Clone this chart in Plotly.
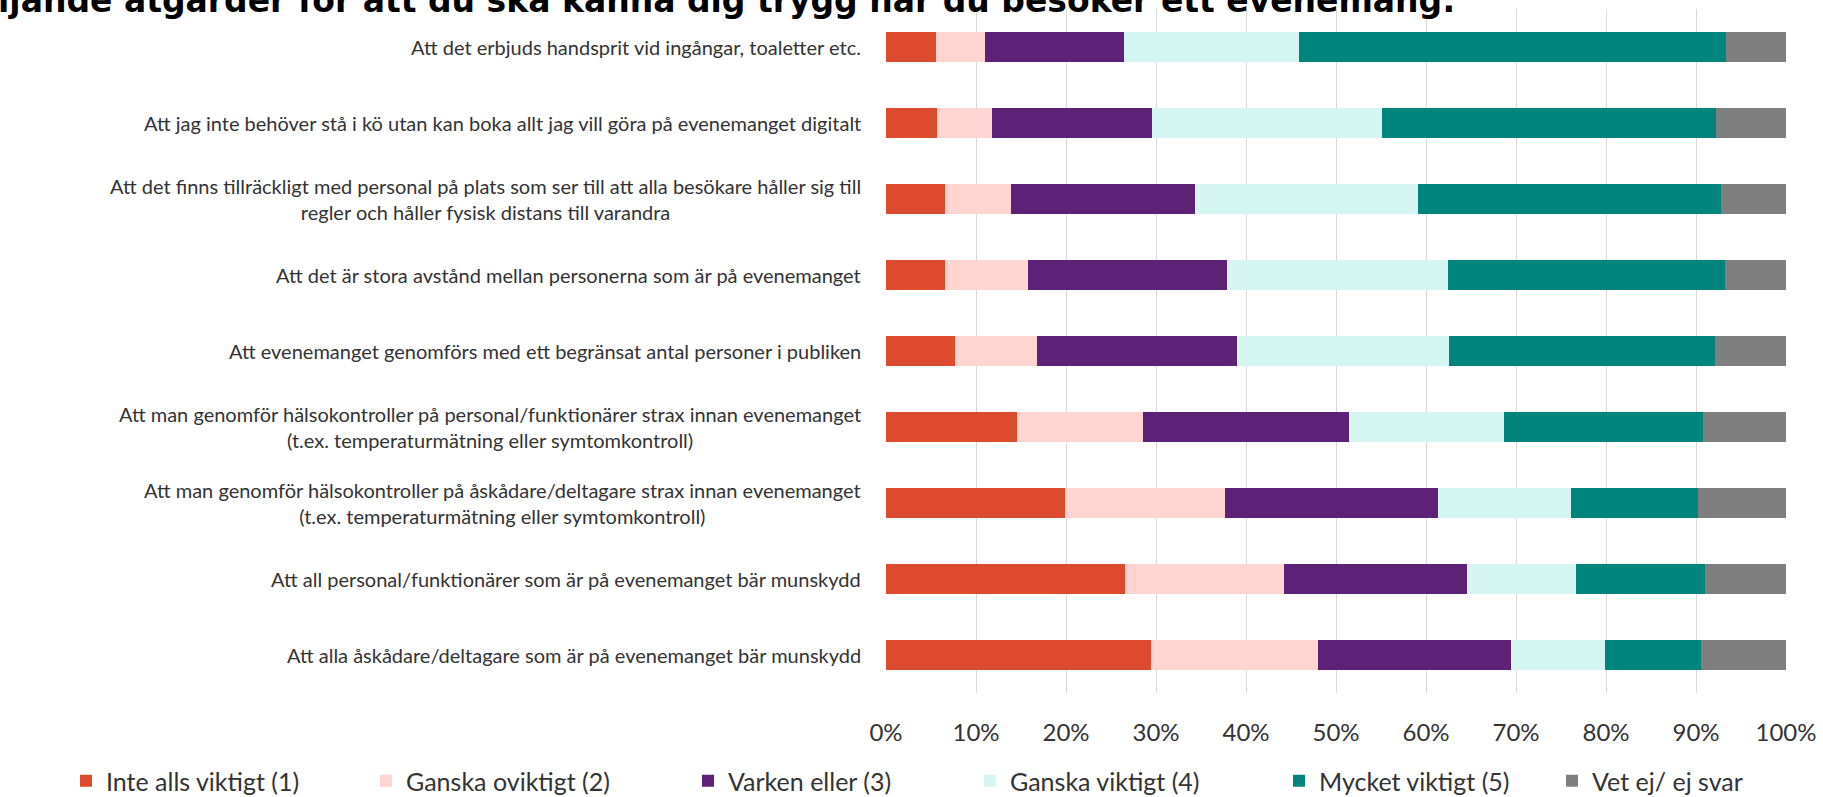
import plotly.graph_objects as go

# Kategorier (uppifrån och ned)
labels = [
    "Att det erbjuds handsprit vid ingångar, toaletter etc.",
    "Att jag inte behöver stå i kö utan kan boka allt jag vill göra på evenemanget digitalt",
    "Att det finns tillräckligt med personal på plats som ser till att alla besökare håller sig till<br>regler och håller fysisk distans till varandra",
    "Att det är stora avstånd mellan personerna som är på evenemanget",
    "Att evenemanget genomförs med ett begränsat antal personer i publiken",
    "Att man genomför hälsokontroller på personal/funktionärer strax innan evenemanget<br>(t.ex. temperaturmätning eller symtomkontroll)",
    "Att man genomför hälsokontroller på åskådare/deltagare strax innan evenemanget<br>(t.ex. temperaturmätning eller symtomkontroll)",
    "Att all personal/funktionärer som är på evenemanget bär munskydd",
    "Att alla åskådare/deltagare som är på evenemanget bär munskydd",
]

# Andelar i procent
inte_alls = [5.5, 5.7, 6.5, 6.6, 7.7, 14.5, 19.9, 26.6, 29.4]
ganska_oviktigt = [5.5, 6.1, 7.4, 9.2, 9.1, 14.1, 17.8, 17.6, 18.6]
varken_eller = [15.4, 17.7, 20.4, 22.1, 22.2, 22.8, 23.6, 20.3, 21.4]
ganska_viktigt = [19.5, 25.6, 24.8, 24.5, 23.6, 17.3, 14.8, 12.2, 10.5]
mycket_viktigt = [47.4, 37.1, 33.7, 30.8, 29.5, 22.1, 14.1, 14.3, 10.6]
vet_ej = [6.7, 7.8, 7.2, 6.8, 7.9, 9.2, 9.8, 9.0, 9.5]

series = [
    ("Inte alls viktigt (1)", inte_alls, "#DE4A2D"),
    ("Ganska oviktigt (2)", ganska_oviktigt, "#FFD5D2"),
    ("Varken eller (3)", varken_eller, "#5D2178"),
    ("Ganska viktigt (4)", ganska_viktigt, "#D5F5F2"),
    ("Mycket viktigt (5)", mycket_viktigt, "#00857C"),
    ("Vet ej/ ej svar", vet_ej, "#7F7F7F"),
]

title_text = "följande åtgärder för att du ska känna dig trygg när du besöker ett evenemang:"

FONT = "Lato"
L, R, T, B = 886, 37, 9, 104
W, H = 1823, 797
PW, PH = W - L - R, H - T - B

# x-position (px) för varje legendpost, som i originalet
legend_px = [66, 366, 688, 970, 1279, 1552]

fig = go.Figure()
for i, (name, vals, color) in enumerate(series):
    fig.add_trace(go.Bar(
        y=labels, x=vals, name=name, orientation="h",
        marker=dict(color=color, line=dict(width=0)),
        legend="legend" if i == 0 else f"legend{i + 1}",
    ))

# kategorietiketter som annotationer (centrerade rader, högerställt block)
for lab in labels:
    fig.add_annotation(
        x=0, xref="paper", y=lab, yref="y", text=lab, showarrow=False,
        xanchor="right", align="center", xshift=-23,
        font=dict(family=FONT, size=20, color="#333333"),
    )

# rubriken, avskuren upptill
fig.add_annotation(
    x=(1457 - L) / PW, xref="paper", y=1 + T / PH, yref="paper",
    text="<b>" + title_text + "</b>", showarrow=False,
    xanchor="right", yanchor="middle",
    font=dict(family="DejaVu Sans", size=33, color="#000000"),
)

legend_style = dict(
    orientation="h", xanchor="left",
    y=-(781 - (T + PH)) / PH, yanchor="middle",
    font=dict(family=FONT, size=25, color="#333333"),
    itemwidth=30, bgcolor="rgba(0,0,0,0)",
)
legends = {}
for i, px in enumerate(legend_px):
    key = "legend" if i == 0 else f"legend{i + 1}"
    legends[key] = dict(legend_style, x=(px - L) / PW)

fig.update_layout(
    width=W, height=H,
    margin=dict(l=L, r=R, t=T, b=B, autoexpand=False),
    barmode="stack", bargap=0.61,
    plot_bgcolor="white", paper_bgcolor="white",
    font=dict(family=FONT, color="#333333"),
    xaxis=dict(
        range=[0, 100], dtick=10, ticksuffix="%",
        showgrid=True, gridcolor="#D9D9D9", gridwidth=1,
        zeroline=False, showline=False,
        tickfont=dict(size=24, color="#333333"),
        ticklabelstandoff=23,
    ),
    yaxis=dict(
        autorange="reversed", showticklabels=False,
        showgrid=False, zeroline=False,
    ),
    showlegend=True,
    **legends,
)

# ta bort body-marginalen så att figuren fyller fönstret
fig.write_html(
    "out.html",
    config={"displayModeBar": False},
    post_script="document.body.style.margin='0';",
)
